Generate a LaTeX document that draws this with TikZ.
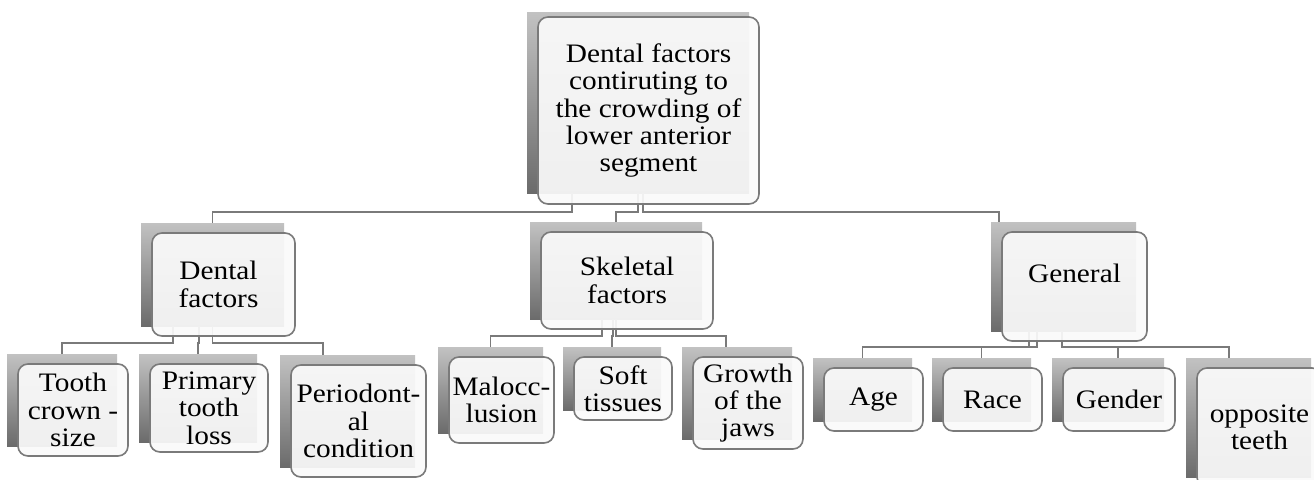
\documentclass[tikz,border=0pt]{standalone}
\usepackage{fontspec}
\setmainfont[FakeStretch=1.1]{Liberation Serif}
\usetikzlibrary{calc}
\pgfdeclarelayer{back}
\pgfdeclarelayer{mid}
\pgfsetlayers{back,mid,main}
\def\pxu{0.75pt}
\tikzset{
  shadowrect/.style={inner sep=0pt, outer sep=0pt, draw=none, top color=black!24, bottom color=black!58},
  frontbox/.style={draw=black!52, line width=1.2pt, rounded corners=7.5pt, fill=black!2, fill opacity=0.93, text opacity=1, inner sep=0pt, outer sep=0pt, align=center, font=\fontsize{20pt}{20.5pt}\selectfont},
  conn/.style={draw=black!52, line width=1.3pt},
}
% name, x1, y1, x2, y2 (front box, in px), text
\newcommand\mybox[6]{%
  \begin{pgfonlayer}{back}
  \node[shadowrect, minimum width={(#4-#2)*\pxu}, minimum height={(#5-#3)*\pxu}] (#1-s) at ({(#2+#4)/2-11},{(#3+#5)/2-10}) {};
  \end{pgfonlayer}
  \node[frontbox, minimum width={(#4-#2)*\pxu}, minimum height={(#5-#3)*\pxu}] (#1) at ({(#2+#4)/2},{(#3+#5)/2}) {#6};
}
\begin{document}
\begin{tikzpicture}[x=0.75pt, y=-0.75pt]
\useasboundingbox (0,0) rectangle (1314,479);
\begin{pgfonlayer}{back}
\fill[white] (0,0) rectangle (1314,479);
\end{pgfonlayer}
% top box
\begin{pgfonlayer}{back}
\node[shadowrect, minimum width={222*\pxu}, minimum height={181*\pxu}] (top-s) at (638,102.5) {};
\end{pgfonlayer}
\node[frontbox, minimum width={221*\pxu}, minimum height={187*\pxu}] (top) at (648.5,110.5)
  {Dental factors\\contiruting to\\the crowding of\\lower anterior\\segment};
% second level
\mybox{dental}{152}{233}{295}{336}{Dental\hspace*{7.5pt}\\factors\hspace*{7.5pt}}
\mybox{skel}{541}{232}{713}{329}{Skeletal\\factors}
\mybox{gen}{1002}{232}{1147}{341}{General\\\mbox{}}
% leaves
\mybox{tooth}{18}{364}{128}{456}{Tooth\\crown -\\size}
\mybox{primary}{150}{364}{268}{452}{Primary\\tooth\\loss}
\mybox{perio}{291}{365}{426}{477}{Periodont-\\al\\condition}
\mybox{maloc}{449}{357}{554}{443}{Malocc-\\lusion}
\mybox{soft}{574}{357}{672}{420}{Soft\\tissues}
\mybox{growth}{693}{357}{803}{449}{Growth\\of the\\jaws}
\mybox{age}{824}{368}{923}{431}{Age}
\mybox{race}{943}{368}{1042}{431}{Race}
\mybox{gender}{1063}{368}{1175}{431}{Gender}
\mybox{opp}{1197}{368}{1322}{487}{opposite\\teeth}
% connectors
\begin{pgfonlayer}{mid}
\draw[conn] ($(top-s.south)+(-66,0)$) -- ++(0,18.7) -| (dental-s.north);
\draw[conn] (top-s.south) -- ++(0,18.7) -| (skel-s.north);
\draw[conn] ($(top-s.south)+(4.7,0)$) -- ++(0,18.7) -| ($(gen-s.north)+(-64.5,0)$);
\draw[conn] ($(dental-s.south)+(-39.5,0)$) -- ++(0,17) -| (tooth-s.north);
\draw[conn] ($(dental-s.south)+(-13.5,0)$) -- ++(0,17) -| (primary-s.north);
\draw[conn] (dental-s.south) -- ++(0,17) -| ($(perio-s.north)+(-24.5,0)$);
\draw[conn] ($(skel-s.south)+(-14,0)$) -- ++(0,17) -| (maloc-s.north);
\draw[conn] ($(skel-s.south)+(-3,0)$) -- ++(0,17) -| (soft-s.north);
\draw[conn] (skel-s.south) -- ++(0,17) -| ($(growth-s.north)+(-11,0)$);
\draw[conn] ($(gen-s.south)+(-34.5,0)$) -- ++(0,16) -| (age-s.north);
\draw[conn] ($(gen-s.south)+(-26.5,0)$) -- ++(0,16) -| (race-s.north);
\draw[conn] ($(gen-s.south)+(-1.5,0)$) -- ++(0,16) -| ($(gender-s.north)+(10,0)$);
\draw[conn] ($(gen-s.south)+(-1.5,0)$) -- ++(0,16) -| ($(opp-s.north)+(-19.5,0)$);
\end{pgfonlayer}
\end{tikzpicture}
\end{document}
